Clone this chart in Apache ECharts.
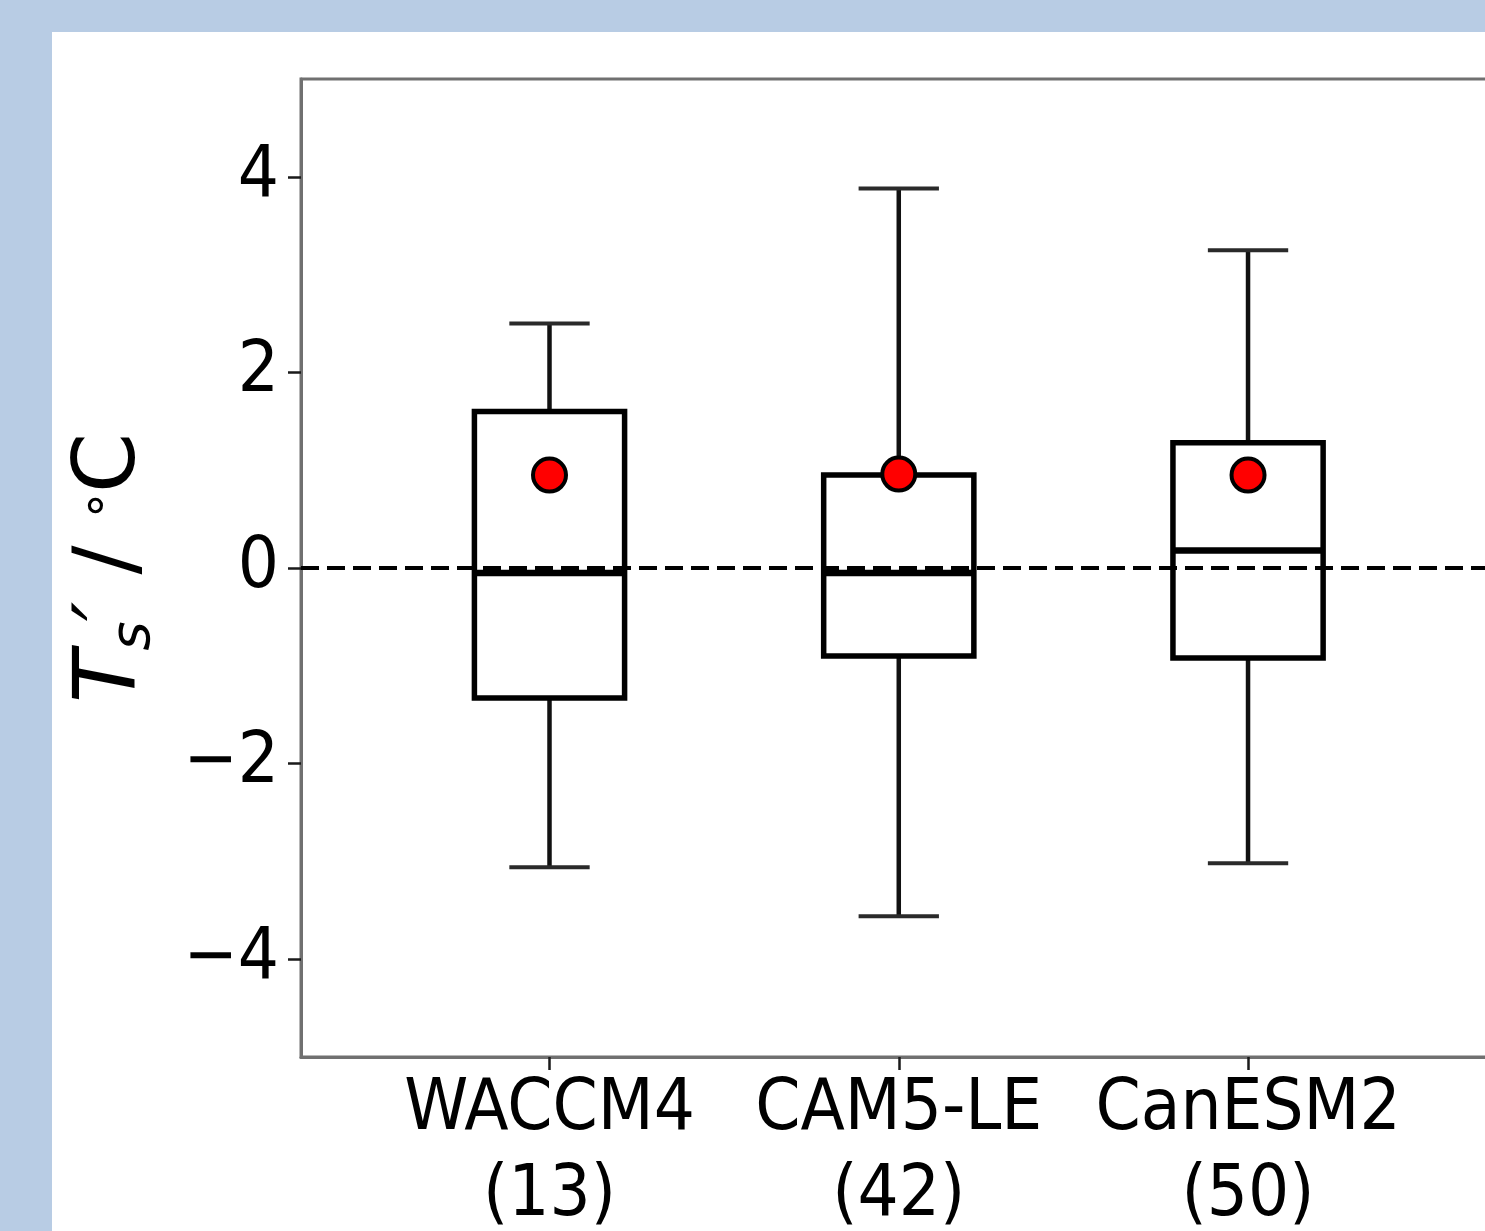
<!DOCTYPE html>
<html>
<head>
<meta charset="utf-8">
<script src="https://cdn.jsdelivr.net/npm/echarts@6/dist/echarts.min.js"></script>
<style>
  html, body { margin: 0; padding: 0; width: 1485px; height: 1231px; overflow: hidden; background: #b8cce4; }
  #panel { position: absolute; left: 52px; top: 32px; width: 1600px; height: 1400px; background: #fff; }
  #main { position: absolute; left: 0; top: 0; width: 1700px; height: 1300px; }
</style>
</head>
<body>
<div id="panel"></div>
<div id="main"></div>
<script>
// data
var models = ['WACCM4', 'CAM5-LE', 'CanESM2']
var memberCounts = [13, 42, 50]
var positions = [1, 2, 3]
var whiskerLow = [-3.06, -3.56, -3.02]
var q1 = [-1.33, -0.90, -0.92]
var median = [-0.05, -0.05, 0.18]
var q3 = [1.60, 0.95, 1.28]
var whiskerHigh = [2.50, 3.88, 3.25]
var means = [0.95, 0.96, 0.95]
var yTicks = [-4, -2, 0, 2, 4]
var zeroLine = 0

var BOX_W = 0.43
var CAP_W = 0.23
var tickFont = '"DejaVu Sans Condensed", "DejaVu Sans", sans-serif'

var boxData = positions.map(function (p, i) {
  return [p, whiskerLow[i], q1[i], median[i], q3[i], whiskerHigh[i]]
})
var meanData = positions.map(function (p, i) {
  return [p, means[i]]
})

function renderBox (params, api) {
  var x = api.value(0)
  var cx = api.coord([x, 0])[0]
  var left = api.coord([x - BOX_W / 2, 0])[0]
  var right = api.coord([x + BOX_W / 2, 0])[0]
  var capL = api.coord([x - CAP_W / 2, 0])[0]
  var capR = api.coord([x + CAP_W / 2, 0])[0]
  var yLow = api.coord([x, api.value(1)])[1]
  var yQ1 = api.coord([x, api.value(2)])[1]
  var yMed = api.coord([x, api.value(3)])[1]
  var yQ3 = api.coord([x, api.value(4)])[1]
  var yHigh = api.coord([x, api.value(5)])[1]
  var whisker = { stroke: '#111', lineWidth: 4.5 }
  var cap = { stroke: '#2a2a2a', lineWidth: 4 }
  return {
    type: 'group',
    children: [
      { type: 'line', shape: { x1: cx, y1: yQ1, x2: cx, y2: yLow }, style: whisker },
      { type: 'line', shape: { x1: cx, y1: yQ3, x2: cx, y2: yHigh }, style: whisker },
      { type: 'line', shape: { x1: capL, y1: yLow, x2: capR, y2: yLow }, style: cap },
      { type: 'line', shape: { x1: capL, y1: yHigh, x2: capR, y2: yHigh }, style: cap },
      {
        type: 'rect',
        shape: { x: left, y: yQ3, width: right - left, height: yQ1 - yQ3 },
        style: { fill: null, stroke: '#000', lineWidth: 5.5 }
      },
      { type: 'line', shape: { x1: left, y1: yMed, x2: right, y2: yMed }, style: { stroke: '#000', lineWidth: 6.5 } }
    ]
  }
}

var myChart = echarts.init(document.getElementById('main'))
myChart.setOption({
  animation: false,
  grid: {
    left: 301,
    top: 79,
    width: 1296.3,
    height: 978,
    show: true,
    borderColor: '#707070',
    borderWidth: 3
  },
  xAxis: {
    type: 'value',
    min: 0.2885,
    max: 4,
    axisLine: { show: true, onZero: false, lineStyle: { color: '#707070', width: 3 } },
    axisTick: { show: true, customValues: positions, length: 13, lineStyle: { color: '#1a1a1a', width: 2.5 } },
    axisLabel: {
      customValues: positions,
      margin: 10,
      fontSize: 72,
      lineHeight: 86,
      fontFamily: tickFont,
      color: '#000',
      formatter: function (v) {
        var i = positions.indexOf(v)
        return i < 0 ? '' : models[i] + '\n(' + memberCounts[i] + ')'
      }
    },
    splitLine: { show: false }
  },
  yAxis: {
    type: 'value',
    min: -5,
    max: 5,
    name: '{t|T}{s|s}{p|\u2032}{r| / }{d|\u00b0}{r|C}',
    nameLocation: 'middle',
    nameRotate: 90,
    nameGap: 139,
    nameTextStyle: {
      rich: {
        t: { fontSize: 86, lineHeight: 100, fontStyle: 'italic', fontFamily: 'DejaVu Sans', color: '#000' },
        s: { fontSize: 56, lineHeight: 46, fontStyle: 'italic', fontFamily: 'DejaVu Sans', color: '#000', verticalAlign: 'bottom' },
        p: { fontSize: 86, lineHeight: 100, fontStyle: 'italic', fontFamily: 'DejaVu Sans', color: '#000' },
        r: { fontSize: 86, lineHeight: 100, fontFamily: 'DejaVu Sans', color: '#000' },
        d: { fontSize: 50, lineHeight: 100, fontFamily: 'DejaVu Sans', color: '#000' }
      }
    },
    axisLine: { show: true, onZero: false, lineStyle: { color: '#707070', width: 3 } },
    axisTick: { show: true, customValues: yTicks, length: 13, lineStyle: { color: '#1a1a1a', width: 2.5 } },
    axisLabel: {
      customValues: yTicks,
      margin: 22,
      fontSize: 72,
      fontFamily: tickFont,
      color: '#000',
      formatter: function (v) {
        return v < 0 ? '\u2212' + Math.abs(v) : String(v)
      }
    },
    splitLine: { show: false }
  },
  series: [
    {
      type: 'custom',
      renderItem: renderBox,
      data: boxData,
      z: 2,
      silent: true
    },
    {
      type: 'scatter',
      data: meanData,
      symbol: 'circle',
      symbolSize: 33,
      z: 4,
      itemStyle: { color: '#ff0000', borderColor: '#000', borderWidth: 4, opacity: 1 },
      markLine: {
        silent: true,
        symbol: 'none',
        label: { show: false },
        lineStyle: { color: '#000', width: 4, type: [18, 8], opacity: 1 },
        data: [{ yAxis: zeroLine }]
      }
    }
  ]
})
</script>
</body>
</html>
